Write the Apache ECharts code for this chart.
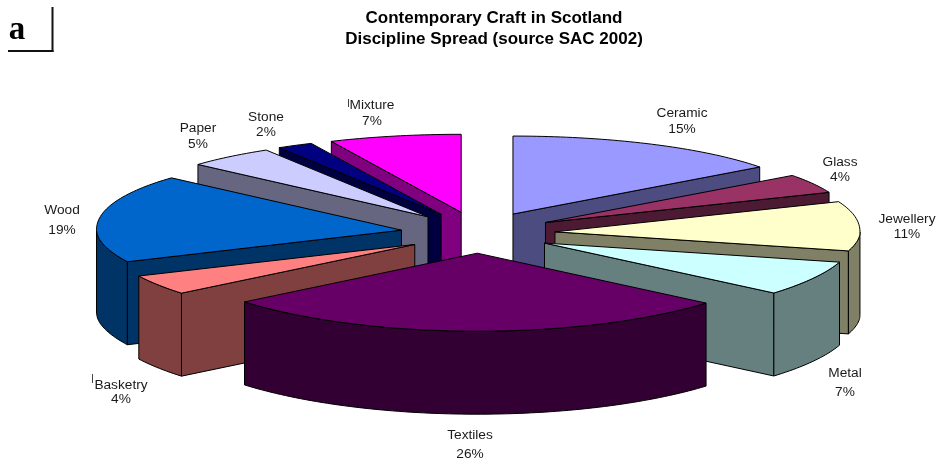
<!DOCTYPE html>
<html><head><meta charset="utf-8">
<style>html,body{margin:0;padding:0;background:#fff}#c{width:939px;height:464px}</style>
<script src="https://cdn.jsdelivr.net/npm/echarts@6/dist/echarts.min.js"></script>
</head><body><div id="c"></div>
<script>
const categories = ['Ceramic','Glass','Jewellery','Metal','Textiles','Basketry','Wood','Paper','Stone','Mixture'];
const shares = [15,4,11,7.1,26.1,4,19.2,4.7,1.9,7];
const topColors = ['#9999FF','#993366','#FFFFCC','#CCFFFF','#660066','#FF8080','#0066CC','#CCCCFF','#000080','#FF00FF'];
const sideColors = ['#4C4C80','#4D1A33','#808066','#668080','#330033','#804040','#003366','#666680','#000040','#800080'];
const labelPlaces = [[682,113,129],[840,162,177],[907,219,234],[845,373,392],[470,435,454],[121,385,399],[62,210,230],[198,128,144],[266,117,132],[372,105,121]];

const CX=478, CY=232.5, EX=77, EY=20.7, RX=305, RY=78, H=83, PERSP=0.0005;
const total = shares.reduce((a,b)=>a+b,0);
let run=0;
const slices = shares.map((v,i)=>{
  const a0=run/total*2*Math.PI; run+=v; const a1=run/total*2*Math.PI;
  return {i,a0,a1,mid:(a0+a1)/2};
});
const order = slices.slice().sort((p,q)=>Math.cos(q.mid)-Math.cos(p.mid)).map(s=>s.i);

function pt(s,a,r,h){
  const c=Math.cos(a);
  const bent=Math.sign(c)*Math.pow(Math.abs(c),c<0?1.2:0.95);
  const X=EX*Math.sin(s.mid)+RX*r*Math.sin(a);
  const Y=-(EY*Math.cos(s.mid)+RY*r*bent);
  return [CX+X*(1+PERSP*Math.max(Y,0)), CY+Y+h];
}
function arc(s,from,to,h){
  const n=Math.max(2,Math.ceil(Math.abs(to-from)/0.02)), out=[];
  for(let k=0;k<=n;k++) out.push(pt(s,from+(to-from)*k/n,1,h));
  return out;
}
function poly(points,fill){
  return {type:'polygon',shape:{points},style:{fill,stroke:'#000',lineWidth:1,lineJoin:'round'}};
}
function renderItem(params,api){
  const s=slices[api.value(0)], c=s.i, children=[];
  const wall=(a)=>poly([pt(s,0,0,0),pt(s,a,1,0),pt(s,a,1,H),pt(s,0,0,H)],sideColors[c]);
  if(Math.sin(s.a0)<-1e-6) children.push(wall(s.a0));
  if(Math.sin(s.a1)>1e-6) children.push(wall(s.a1));
  const from=Math.max(s.a0,Math.PI/2), to=Math.min(s.a1,3*Math.PI/2);
  if(to>from){
    children.push(poly(arc(s,from,to,0).concat(arc(s,to,from,H)),sideColors[c]));
  }
  children.push(poly([pt(s,0,0,0)].concat(arc(s,s.a0,s.a1,0)),topColors[c]));
  return {type:'group',children};
}
const labelFont='"Liberation Sans",Arial,sans-serif';
const labels=[];
categories.forEach((name,i)=>{
  const p=labelPlaces[i];
  labels.push({type:'text',x:p[0],y:p[1],style:{text:name,font:'13.7px '+labelFont,fill:'#1a1a1a',textAlign:'center',textVerticalAlign:'middle'}});
  labels.push({type:'text',x:p[0],y:p[2],style:{text:Math.round(shares[i])+'%',font:'13.7px '+labelFont,fill:'#1a1a1a',textAlign:'center',textVerticalAlign:'middle'}});
});
const marks=[
  {type:'text',x:17,y:30,style:{text:'a',font:'bold 33px "Liberation Serif",serif',fill:'#000',textAlign:'center',textVerticalAlign:'middle'}},
  {type:'line',shape:{x1:52.5,y1:7,x2:52.5,y2:52},style:{stroke:'#111',lineWidth:2}},
  {type:'line',shape:{x1:8,y1:51,x2:53.5,y2:51},style:{stroke:'#111',lineWidth:2}},
  {type:'line',shape:{x1:348.5,y1:99,x2:348.5,y2:107},style:{stroke:'#444',lineWidth:1}},
  {type:'line',shape:{x1:92.5,y1:374,x2:92.5,y2:383},style:{stroke:'#444',lineWidth:1}}
];
const chart=echarts.init(document.getElementById('c'),null,{renderer:'canvas'});
chart.setOption({
  animation:false,
  backgroundColor:'#fff',
  title:{text:'Contemporary Craft in Scotland\nDiscipline Spread (source SAC 2002)',left:489,top:3,textAlign:'center',
    textStyle:{fontFamily:labelFont,fontSize:17,fontWeight:'bold',color:'#000',lineHeight:21}},
  graphic:{elements:marks.concat(labels)},
  series:[{type:'custom',coordinateSystem:'none',renderItem,silent:true,clip:false,
    data:order.map(i=>({name:categories[i],value:[i,shares[i]]}))}]
});
</script></body></html>
